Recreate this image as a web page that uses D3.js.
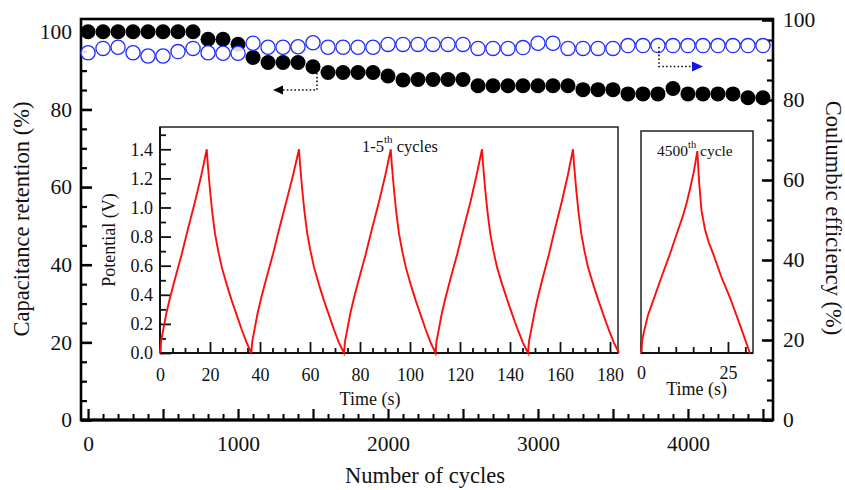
<!DOCTYPE html>
<html><head><meta charset="utf-8">
<script src="https://cdn.jsdelivr.net/npm/d3@7"></script>
<style>
body{margin:0;background:#fff}
svg{display:block}
text{font-family:"Liberation Serif","Times New Roman",serif;fill:#111}
</style>
</head><body>
<svg id="c" width="845" height="490"></svg>
<script>
// ---------------- data ----------------
const cycles=[0,100,200,300,400,500,600,700,800,900,1000,1100,1200,1300,1400,1500,1600,1700,1800,1900,2000,2100,2200,2300,2400,2500,2600,2700,2800,2900,3000,3100,3200,3300,3400,3500,3600,3700,3800,3900,4000,4100,4200,4300,4400,4500];
const capacitanceRetention=[100,100,100,100,100,100,100,100,98.1,98.1,96.8,93.4,92.1,92.1,92.1,91.0,89.5,89.5,89.5,89.5,88.6,87.6,87.7,87.7,87.7,87.7,86.1,86.1,86.1,86.1,86.1,86.1,86.1,85.1,85.1,85.1,84.0,84.0,84.0,85.4,84.0,84.0,84.0,84.0,83.0,83.0];
const coulombicEfficiency=[91.8,92.9,93.2,91.8,91.0,91.0,92.1,92.9,91.8,91.7,91.7,94.2,93.2,93.2,93.3,94.3,93.2,93.2,93.2,93.2,93.9,93.9,93.9,93.9,93.9,93.9,92.9,92.9,92.9,93.1,94.2,94.2,92.9,92.9,92.9,92.9,93.6,93.6,93.6,93.6,93.6,93.6,93.6,93.6,93.6,93.6];
const mainXTickLabels=[0,1000,2000,3000,4000];
const leftYTickLabels=[0,20,40,60,80,100];
const rightYTickLabels=[0,20,40,60,80,100];

// inset 1: cycles 1-5
const inset1Time=[0,0.4,1.3,2.5,4.0,6.0,8.7,11.0,14.0,16.5,18.7,19.1,20.0,20.9,22.0,23.3,24.7,26.7,28.7,30.7,32.7,34.7,36.5,
36.9,37.8,39.0,40.5,42.5,45.2,47.5,50.5,53.2,55.6,56.0,56.9,57.8,58.9,60.2,61.6,63.6,65.6,67.6,69.6,71.6,73.6,
74.0,74.9,76.1,77.6,79.6,82.3,84.6,87.6,90.1,92.3,92.7,93.6,94.5,95.6,96.9,98.3,100.3,102.3,104.3,106.3,108.3,110.2,
110.6,111.5,112.7,114.2,116.2,118.9,121.2,124.2,126.6,128.8,129.2,130.1,131.0,132.1,133.4,134.8,136.9,139.0,141.0,143.1,145.2,147.2,
147.6,148.5,149.7,151.1,153.0,155.6,157.8,160.7,163.1,165.2,165.6,166.5,167.4,168.5,169.8,171.2,173.3,175.4,177.4,179.5,181.6,183.6];
const inset1Potential=[0,0.08,0.16,0.27,0.38,0.51,0.68,0.84,1.04,1.22,1.40,1.30,1.12,0.97,0.82,0.70,0.59,0.47,0.36,0.26,0.16,0.07,0,
0.08,0.16,0.27,0.38,0.51,0.68,0.84,1.04,1.22,1.40,1.30,1.12,0.97,0.82,0.70,0.59,0.47,0.36,0.26,0.16,0.07,0,
0.08,0.16,0.27,0.38,0.51,0.68,0.84,1.04,1.22,1.40,1.30,1.12,0.97,0.82,0.70,0.59,0.47,0.36,0.26,0.16,0.07,0,
0.08,0.16,0.27,0.38,0.51,0.68,0.84,1.04,1.22,1.40,1.30,1.12,0.97,0.82,0.70,0.59,0.47,0.36,0.26,0.16,0.07,0,
0.08,0.16,0.27,0.38,0.51,0.68,0.84,1.04,1.22,1.40,1.30,1.12,0.97,0.82,0.70,0.59,0.47,0.36,0.26,0.16,0.07,0];
const inset1XTickLabels=[0,20,40,60,80,100,120,140,160,180];
const inset1YTickLabels=[0,0.2,0.4,0.6,0.8,1.0,1.2,1.4];

// inset 2: 4500th cycle
const inset2Time=[0,0.3,0.7,2.0,3.5,6.0,8.3,10.7,12.0,13.1,14.1,15.2,16.2,16.7,17.4,18.4,19.5,20.8,23.0,25.6,28.5,31.3];
const inset2Potential=[0,0.08,0.13,0.26,0.36,0.53,0.68,0.85,0.94,1.03,1.13,1.25,1.39,1.18,0.98,0.85,0.76,0.68,0.53,0.38,0.19,0];
const inset2XTickLabels=[0,25];

// ---------------- drawing ----------------
const svg=d3.select("#c");
svg.append("rect").attr("width",845).attr("height",490).attr("fill","#fff");

const M={l:81,r:773,t:19,b:420};
const x=d3.scaleLinear().domain([-47,4567]).range([M.l,M.r]);
const yL=d3.scaleLinear().domain([0,103.3]).range([M.b,M.t]);
const yR=d3.scaleLinear().domain([0,100.25]).range([M.b,M.t]);

function styleAxis(g,sw,fs,color){
  g.select(".domain").remove();
  g.selectAll(".tick line").attr("stroke",color||"#000").attr("stroke-width",sw);
  g.selectAll(".tick text").attr("font-size",fs).attr("fill","#111")
   .attr("font-family",'"Liberation Serif","Times New Roman",serif');
  return g;
}
const minorVals=(a,b,s,skip)=>{const r=[];for(let v=a;v<=b+1e-9;v+=s){const vv=+v.toFixed(4);if(!skip(vv))r.push(vv);}return r;};

// main bottom axis
styleAxis(svg.append("g").attr("transform",`translate(0,${M.b})`)
  .call(d3.axisBottom(x).tickValues(minorVals(0,4500,100,v=>v%500===0)).tickSize(-6).tickFormat("")),2);
styleAxis(svg.append("g").attr("transform",`translate(0,${M.b})`)
  .call(d3.axisBottom(x).tickValues([0,500,1000,1500,2000,2500,3000,3500,4000,4500]).tickSize(-11).tickFormat("")),2.2);
styleAxis(svg.append("g").attr("transform",`translate(0,${M.b})`)
  .call(d3.axisBottom(x).tickValues(mainXTickLabels).tickSize(0).tickPadding(16).tickFormat(d3.format("d"))),0,21.5);

// main left axis
styleAxis(svg.append("g").attr("transform",`translate(${M.l},0)`)
  .call(d3.axisLeft(yL).tickValues(minorVals(0,100,5,v=>v%20===0)).tickSize(-6).tickFormat("")),2.2);
styleAxis(svg.append("g").attr("transform",`translate(${M.l},0)`)
  .call(d3.axisLeft(yL).tickValues(leftYTickLabels).tickSize(-11).tickPadding(9).tickFormat(d3.format("d"))),2.6,21.5);

// main right axis
styleAxis(svg.append("g").attr("transform",`translate(${M.r},0)`)
  .call(d3.axisRight(yR).tickValues(minorVals(0,100,5,v=>v%20===0)).tickSize(-6).tickFormat("")),2.2);
styleAxis(svg.append("g").attr("transform",`translate(${M.r},0)`)
  .call(d3.axisRight(yR).tickValues(rightYTickLabels).tickSize(-11).tickPadding(10).tickFormat(d3.format("d"))),2.6,21.5);

// frame
svg.append("rect").attr("x",M.l).attr("y",M.t).attr("width",M.r-M.l).attr("height",M.b-M.t)
  .attr("fill","none").attr("stroke","#000").attr("stroke-width",2.6);
svg.append("line").attr("x1",M.l).attr("x2",M.r).attr("y1",M.b).attr("y2",M.b).attr("stroke","#000").attr("stroke-width",3.2);

// titles
svg.append("text").attr("transform",`translate(29,219) rotate(-90)`).attr("text-anchor","middle")
  .attr("font-size",22.5).text("Capacitance retention (%)");
svg.append("text").attr("transform",`translate(826,218) rotate(90)`).attr("text-anchor","middle")
  .attr("font-size",22.5).text("Coulumbic efficiency (%)");
svg.append("text").attr("x",425).attr("y",483).attr("text-anchor","middle")
  .attr("font-size",22.5).text("Number of cycles");

// data points
const pts=cycles.map((c,i)=>({c,cap:capacitanceRetention[i],ce:coulombicEfficiency[i]}));
svg.append("g").selectAll("circle").data(pts).join("circle")
  .attr("cx",d=>x(d.c)).attr("cy",d=>yL(d.cap)).attr("r",7.5).attr("fill","#000");
svg.append("g").selectAll("circle").data(pts).join("circle")
  .attr("cx",d=>x(d.c)).attr("cy",d=>yR(d.ce)).attr("r",7.1).attr("fill","#fff")
  .attr("fill-opacity",0.85).attr("stroke","#1f2cff").attr("stroke-width",1.3);

// arrows
const dash={"stroke":"#111","stroke-width":1.6,"stroke-dasharray":"1.6,2.2","fill":"none"};
function applyAttrs(sel,o){for(const k in o)sel.attr(k,o[k]);return sel;}
applyAttrs(svg.append("path").attr("d","M317,73 L317,90 L283,90"),dash);
svg.append("path").attr("d","M283,85.5 L273,90 L283,94.5 Z").attr("fill","#000");
applyAttrs(svg.append("path").attr("d","M659,47 L659,66.5 L692,66.5"),dash);
svg.append("path").attr("d","M692,61.5 L703,66.5 L692,71.5 Z").attr("fill","#1414e6");

// ---------- inset 1 ----------
const I1={l:160,r:618,t:127,b:353};
const ix1=d3.scaleLinear().domain([0,183.2]).range([I1.l,I1.r]);
const iy=d3.scaleLinear().domain([0,1.553]).range([I1.b,I1.t]);
svg.append("rect").attr("x",I1.l).attr("y",I1.t).attr("width",I1.r-I1.l).attr("height",I1.b-I1.t)
  .attr("fill","#fff").attr("stroke","#222").attr("stroke-width",1.5);
styleAxis(svg.append("g").attr("transform",`translate(0,${I1.b})`)
  .call(d3.axisBottom(ix1).tickValues(minorVals(0,180,5,v=>v%20===0)).tickSize(-5).tickFormat("")),1.8,0,"#111");
styleAxis(svg.append("g").attr("transform",`translate(0,${I1.b})`)
  .call(d3.axisBottom(ix1).tickValues(inset1XTickLabels).tickSize(-11).tickPadding(15).tickFormat(d3.format("d"))),1.8,18,"#111");
styleAxis(svg.append("g").attr("transform",`translate(${I1.l},0)`)
  .call(d3.axisLeft(iy).tickValues([0.1,0.3,0.5,0.7,0.9,1.1,1.3,1.5]).tickSize(-6).tickFormat("")),1.8,0,"#111");
styleAxis(svg.append("g").attr("transform",`translate(${I1.l},0)`)
  .call(d3.axisLeft(iy).tickValues(inset1YTickLabels).tickSize(-11).tickPadding(7).tickFormat(d3.format(".1f"))),1.8,18,"#111");
svg.append("line").attr("x1",I1.l).attr("x2",I1.l).attr("y1",I1.t).attr("y2",I1.b).attr("stroke","#111").attr("stroke-width",2);
svg.append("line").attr("x1",I1.l).attr("x2",I1.r).attr("y1",I1.b).attr("y2",I1.b).attr("stroke","#111").attr("stroke-width",2.2);
const line1=d3.line().x((d,i)=>ix1(inset1Time[i])).y((d,i)=>iy(inset1Potential[i]));
svg.append("path").attr("d",line1(inset1Time)).attr("fill","none").attr("stroke","#ff0d0d").attr("stroke-width",1.9);
svg.append("text").attr("transform","translate(115,240) rotate(-90)").attr("text-anchor","middle")
  .attr("font-size",18).text("Potential (V)");
svg.append("text").attr("x",ix1(84)).attr("y",405).attr("text-anchor","middle").attr("font-size",18).text("Time (s)");
const t1=svg.append("text").attr("x",362).attr("y",152).attr("font-size",16.5);
t1.append("tspan").text("1-5");
t1.append("tspan").attr("font-size",11).attr("dy",-9).text("th");
t1.append("tspan").attr("dy",9).text(" cycles");

// ---------- inset 2 ----------
const I2={l:641,r:753,t:131,b:353};
const ix2=d3.scaleLinear().domain([0,32.2]).range([I2.l,I2.r]);
const iy2=d3.scaleLinear().domain([0,1.528]).range([I2.b,I2.t]);
svg.append("rect").attr("x",I2.l).attr("y",I2.t).attr("width",I2.r-I2.l).attr("height",I2.b-I2.t)
  .attr("fill","#fff").attr("stroke","#222").attr("stroke-width",1.5);
styleAxis(svg.append("g").attr("transform",`translate(0,${I2.b})`)
  .call(d3.axisBottom(ix2).tickValues([5,10,15,20,30]).tickSize(-6).tickFormat("")),1.8,0,"#111");
styleAxis(svg.append("g").attr("transform",`translate(0,${I2.b})`)
  .call(d3.axisBottom(ix2).tickValues(inset2XTickLabels).tickSize(-11).tickPadding(13).tickFormat(d3.format("d"))),1.8,18,"#111");
svg.append("line").attr("x1",I2.l).attr("x2",I2.r).attr("y1",I2.b).attr("y2",I2.b).attr("stroke","#111").attr("stroke-width",2.2);
const line2=d3.line().x((d,i)=>ix2(inset2Time[i])).y((d,i)=>iy2(inset2Potential[i]));
svg.append("path").attr("d",line2(inset2Time)).attr("fill","none").attr("stroke","#ff0d0d").attr("stroke-width",1.9);
svg.append("text").attr("x",ix2(16)).attr("y",395).attr("text-anchor","middle").attr("font-size",18).text("Time (s)");
const t2=svg.append("text").attr("x",657).attr("y",156).attr("font-size",15.5);
t2.append("tspan").text("4500");
t2.append("tspan").attr("font-size",10.5).attr("dy",-8).text("th");
t2.append("tspan").attr("dy",8).text(" cycle");
</script>
</body></html>
